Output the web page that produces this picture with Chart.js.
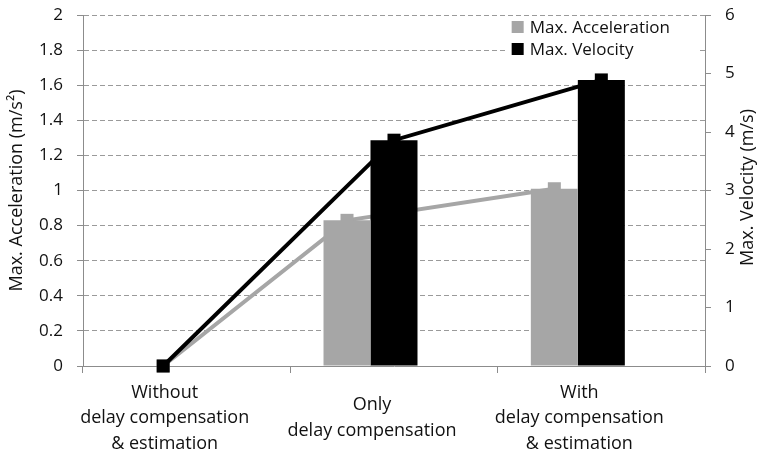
<!DOCTYPE html>
<html>
<head>
<meta charset="utf-8">
<script src="https://cdn.jsdelivr.net/npm/chart.js@4/dist/chart.umd.min.js"></script>
<style>
  html, body { margin: 0; padding: 0; background: #ffffff; }
  #wrap { width: 759px; height: 455px; }
</style>
</head>
<body>
<div id="wrap"><canvas id="c" width="759" height="455"></canvas></div>
<script>
// ---- data ----
const categories = [
  ['Without', 'delay compensation', '& estimation'],
  ['Only', 'delay compensation'],
  ['With', 'delay compensation', '& estimation']
];
const seriesNames = ['Max. Acceleration', 'Max. Velocity'];
const maxAcceleration = [0, 0.83, 1.01];   // m/s², left axis
const maxVelocity = [0, 3.86, 4.89];       // m/s, right axis
const accelAxisTitle = 'Max. Acceleration (m/s\u00B2)';
const velocityAxisTitle = 'Max. Velocity (m/s)';
const accelRange = [0, 2, 0.2];
const velocityRange = [0, 6, 1];

// ---- styles ----
const GREY = '#a6a6a6';
const BLACK = '#000000';
const AXIS = '#8c8c8c';
const GRID = '#9a9a9a';
const FONT = "'Open Sans', sans-serif";
const TEXT = '#111111';

Chart.defaults.font.family = FONT;
Chart.defaults.font.size = 17;
Chart.defaults.color = TEXT;

// place line points on the centre of their bar (group centre when the value is zero)
const alignLines = {
  id: 'alignLines',
  afterDatasetsUpdate(chart) {
    const g = chart.getDatasetMeta(0).data;
    const b = chart.getDatasetMeta(1).data;
    [[3, g, maxAcceleration], [4, b, maxVelocity]].forEach(([di, bars, vals]) => {
      const pts = chart.getDatasetMeta(di).data;
      pts.forEach((p, i) => {
        p.x = vals[i] === 0 ? (g[i].x + b[i].x) / 2 : bars[i].x;
      });
    });
  }
};

const legendBox = {
  id: 'legendBox',
  afterDraw(chart) {
    const ctx = chart.ctx, ca = chart.chartArea;
    ctx.save();
    ctx.font = "17px " + FONT;
    const items = [0, 1].map(i => ({ label: chart.data.datasets[i].label, color: chart.data.datasets[i].backgroundColor }));
    const tw = Math.max(...items.map(it => ctx.measureText(it.label).width));
    const textX = ca.right - 35 - tw;
    const rowH = 22, y0 = ca.top + 1;
    ctx.fillStyle = '#ffffff';
    ctx.fillRect(textX - 24, y0 + 2, (ca.right - 7) - (textX - 24), rowH * 2 + 2);
    items.forEach((it, k) => {
      const cy = y0 + rowH * k + rowH / 2;
      ctx.fillStyle = it.color;
      ctx.fillRect(textX - 18, cy - 6, 12, 12);
      ctx.fillStyle = TEXT;
      ctx.textAlign = 'left';
      ctx.textBaseline = 'middle';
      ctx.fillText(it.label, textX, cy + 1);
    });
    ctx.restore();
  }
};

const rightTitle = {
  id: 'rightTitle',
  afterDraw(chart) {
    const ctx = chart.ctx, ca = chart.chartArea;
    ctx.save();
    ctx.translate(chart.width - 11, (ca.top + ca.bottom) / 2 - 3);
    ctx.rotate(-Math.PI / 2);
    ctx.font = "18px " + FONT;
    ctx.fillStyle = TEXT;
    ctx.textAlign = 'center';
    ctx.textBaseline = 'middle';
    ctx.fillText(velocityAxisTitle, 0, 0);
    ctx.restore();
  }
};

const barCommon = { categoryPercentage: 0.68, barPercentage: 1, order: 5, borderWidth: 0 };

new Chart(document.getElementById('c'), {
  type: 'bar',
  data: {
    labels: categories,
    datasets: [
      Object.assign({ label: seriesNames[0], data: maxAcceleration, backgroundColor: GREY, yAxisID: 'y' }, barCommon),
      Object.assign({ label: seriesNames[1], data: maxVelocity, backgroundColor: BLACK, yAxisID: 'y2' }, barCommon),
      Object.assign({ label: '', data: categories.map(() => null), backgroundColor: 'rgba(0,0,0,0)', yAxisID: 'y' }, barCommon),
      { type: 'line', label: seriesNames[0], data: maxAcceleration, yAxisID: 'y', order: 10,
        borderColor: GREY, backgroundColor: GREY, borderWidth: 4, tension: 0, clip: false,
        pointStyle: 'rect', pointRadius: 9.2, pointBorderWidth: 0, pointBackgroundColor: GREY },
      { type: 'line', label: seriesNames[1], data: maxVelocity, yAxisID: 'y2', order: 0,
        borderColor: BLACK, backgroundColor: BLACK, borderWidth: 4, tension: 0, clip: false,
        pointStyle: 'rect', pointRadius: 9.2, pointBorderWidth: 0, pointBackgroundColor: BLACK }
    ]
  },
  options: {
    responsive: false,
    animation: false,
    events: [],
    layout: { padding: { top: 15, left: 0, right: 0, bottom: 0 } },
    plugins: { legend: { display: false }, tooltip: { enabled: false } },
    scales: {
      x: {
        type: 'category',
        offset: true,
        afterFit(s) { s.height = 89; s.paddingLeft = 0; s.paddingRight = 0; },
        grid: { display: true, offset: true, drawOnChartArea: false, drawTicks: true, tickLength: 7, color: AXIS },
        border: { display: true, color: AXIS, width: 1 },
        ticks: { padding: 19.5, labelOffset: -22, crossAlign: 'center', maxRotation: 0, autoSkip: false,
                 font: { size: 18, lineHeight: 1.42 }, color: TEXT }
      },
      y: {
        type: 'linear',
        position: 'left',
        min: accelRange[0], max: accelRange[1],
        afterFit(s) { s.width = 83; s.paddingTop = 0; s.paddingBottom = 0; },
        grid: { color: GRID, tickColor: AXIS, tickLength: 6, lineWidth: 1 },
        border: { display: true, color: AXIS, dash: [5, 3] },
        ticks: { stepSize: accelRange[2], padding: 14, callback: v => String(Math.round(v * 10) / 10) },
        title: { display: true, text: accelAxisTitle, padding: { top: 6, bottom: 0 }, font: { size: 18 }, color: TEXT }
      },
      y2: {
        type: 'linear',
        position: 'right',
        min: velocityRange[0], max: velocityRange[1],
        afterFit(s) { s.width = 54; s.paddingTop = 0; s.paddingBottom = 0; },
        grid: { drawOnChartArea: false, tickColor: AXIS, tickLength: 6, color: AXIS },
        border: { display: true, color: AXIS },
        ticks: { stepSize: velocityRange[2], padding: 14, callback: v => String(v) }
      }
    }
  },
  plugins: [alignLines, legendBox, rightTitle]
});
</script>
</body>
</html>
